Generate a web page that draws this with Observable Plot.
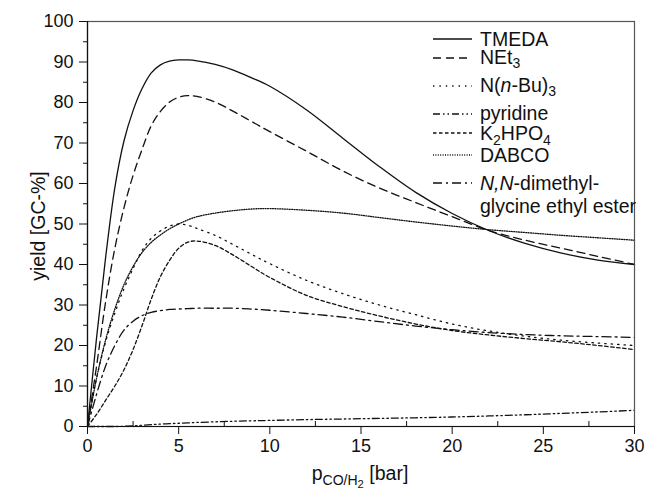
<!DOCTYPE html>
<html><head><meta charset="utf-8">
<script src="https://cdn.jsdelivr.net/npm/d3@7"></script>
<script src="https://cdn.jsdelivr.net/npm/@observablehq/plot@0.6"></script>
<style>html,body{margin:0;padding:0;background:#fff}</style>
</head><body><div id="chart"></div>
<script>
const pressure = [0,0.5,1,1.5,2,2.5,3,3.5,4,4.5,5,5.5,6,7,8,9,10,12,14,16,18,20,22,24,26,28,30];
const tmeda    = [0,22,42,59,70.5,78,83.5,87.3,89.3,90.2,90.5,90.5,90.3,89.4,88,86.1,84,78.2,71.2,64.2,57.8,52.6,48.4,45.2,42.8,41.1,40];
const net3     = [0,15,31,44,54,62,68.5,74.3,77.8,80.1,81.3,81.7,81.5,80.1,77.8,75.3,72.8,68,63.1,58.9,55.3,51.8,48.4,46,44,42,40];
const nbu3     = [0,12,21,28,34,39,43.5,46.5,48.3,49.5,50,49.7,48.9,47.2,44.9,42.5,40.2,36.1,32.8,30,27.6,25.3,23.6,22.3,21.3,20.6,20];
const pyridine = [0,0,0,0,0.05,0.15,0.3,0.45,0.6,0.7,0.8,0.9,1.0,1.15,1.3,1.4,1.5,1.7,1.85,2.0,2.15,2.35,2.6,2.9,3.25,3.6,4.0];
const k2hpo4   = [0,3,6.5,10,14,19,25,31.5,37,41,44,45.5,45.8,44.7,42.3,39.5,36.8,32.4,29.6,27.3,25.3,23.7,22.6,21.7,20.9,20,19];
const dabco    = [0,12,21.5,29,35,39.5,43,45.5,47.3,48.8,50,51,51.8,52.7,53.3,53.7,53.8,53.4,52.7,51.6,50.5,49.5,48.6,47.9,47.2,46.6,46];
const glycine  = [0,8,15,20,23.8,26,27.4,28.2,28.6,28.9,29,29.1,29.2,29.2,29.2,29,28.7,27.9,27,25.9,24.8,23.9,23.2,22.7,22.4,22.2,22];
const seriesKeys = ["TMEDA","NEt3","NnBu3","pyridine","K2HPO4","DABCO","glycine"];
const seriesValues = [tmeda, net3, nbu3, pyridine, k2hpo4, dabco, glycine];
const xTicks = [0,5,10,15,20,25,30];
const xMinor = [2.5,7.5,12.5,17.5,22.5,27.5];
const yTicks = [0,10,20,30,40,50,60,70,80,90,100];
const yMinor = [5,15,25,35,45,55,65,75,85,95];

const dashes = {
  TMEDA: null,
  NEt3: "8,5",
  NnBu3: "1.4,5",
  pyridine: "7,3,1.5,3,1.5,3",
  K2HPO4: "3.5,2.5",
  DABCO: "1,1.4",
  glycine: "9,4,2,4"
};

const rows = [];
seriesKeys.forEach((k, si) => pressure.forEach((p, i) => rows.push({series: k, x: p, y: seriesValues[si][i]})));

const W = 646, H = 493, mL = 87, mR = 12, mT = 21, mB = 67;
const innerH = H - mT - mB;
const FONT = "Liberation Sans, Arial, Helvetica, sans-serif";
const INK = "#111";

const chart = Plot.plot({
  width: W, height: H,
  marginLeft: mL, marginRight: mR, marginTop: mT, marginBottom: mB,
  x: {domain: [0, 30]},
  y: {domain: [0, 100]},
  style: {fontFamily: FONT, fontSize: "18px", color: INK, background: "#fff"},
  marks: [
    ...seriesKeys.map(k => Plot.line(rows.filter(r => r.series === k), {
      x: "x", y: "y", curve: "catmull-rom", stroke: INK, strokeWidth: 1.3,
      strokeDasharray: dashes[k] || undefined
    })),
    Plot.frame({stroke: "#555", strokeWidth: 1.2}),
    Plot.ruleX([0], {stroke: INK, strokeWidth: 1.2}),
    Plot.ruleY([0], {stroke: INK, strokeWidth: 1.2}),
    Plot.axisX({ticks: xTicks, tickSize: 8, tickPadding: 5, label: null, fontSize: 18, stroke: INK}),
    Plot.tickX(xMinor, {x: d => d, insetTop: innerH - 5, stroke: INK}),
    Plot.axisY({ticks: yTicks, tickSize: 8, tickPadding: 6, label: null, fontSize: 18, stroke: INK}),
    Plot.axisY({ticks: yMinor, tickSize: 4, text: null, label: null, stroke: INK})
  ]
});
document.getElementById("chart").appendChild(chart);

const svg = d3.select(chart);
const LFS = 19.5;

function richText(g, x, y, parts, size, anchor) {
  const t = g.append("text").attr("x", x).attr("y", y)
    .attr("font-family", FONT).attr("font-size", size).attr("fill", INK)
    .attr("text-anchor", anchor || "start");
  let shift = 0;
  parts.forEach(([str, kind]) => {
    const ts = t.append("tspan").text(str);
    let target = 0, fs = size, it = false;
    if (kind === "sub") { target = size * 0.24; fs = size * 0.72; }
    if (kind === "subsub") { target = size * 0.4; fs = size * 0.58; }
    if (kind === "it") { it = true; }
    ts.attr("font-size", fs).attr("dy", target - shift);
    if (it) ts.attr("font-style", "italic");
    shift = target;
  });
  return t;
}

// legend
const legend = [
  {key: "TMEDA", ly: 39, ty: 45.5, parts: [["TMEDA"]]},
  {key: "NEt3", ly: 58, ty: 63.5, parts: [["NEt"], ["3", "sub"]]},
  {key: "NnBu3", ly: 86, ty: 91.5, parts: [["N("], ["n", "it"], ["-Bu)"], ["3", "sub"]]},
  {key: "pyridine", ly: 114, ty: 119.5, parts: [["pyridine"]]},
  {key: "K2HPO4", ly: 133, ty: 140, parts: [["K"], ["2", "sub"], ["HPO"], ["4", "sub"]]},
  {key: "DABCO", ly: 155, ty: 162, parts: [["DABCO"]]},
  {key: "glycine", ly: 183, ty: 190, parts: [["N,N", "it"], ["-dimethyl-"]]}
];
const lg = svg.append("g");
legend.forEach(e => {
  lg.append("line").attr("x1", 433).attr("x2", 472).attr("y1", e.ly).attr("y2", e.ly)
    .attr("stroke", INK).attr("stroke-width", 1.3)
    .attr("stroke-dasharray", dashes[e.key] || null);
  richText(lg, 480, e.ty, e.parts, LFS);
});
richText(lg, 480, 213, [["glycine ethyl ester"]], LFS);

// axis titles
richText(svg, 360, 480, [["p"], ["CO/H", "sub"], ["2", "subsub"], [" [bar]"]], LFS, "middle");
svg.append("text").attr("transform", "translate(45,226) rotate(-90)")
  .attr("text-anchor", "middle").attr("font-family", FONT).attr("font-size", LFS)
  .attr("fill", INK).text("yield [GC-%]");
</script>
</body></html>
